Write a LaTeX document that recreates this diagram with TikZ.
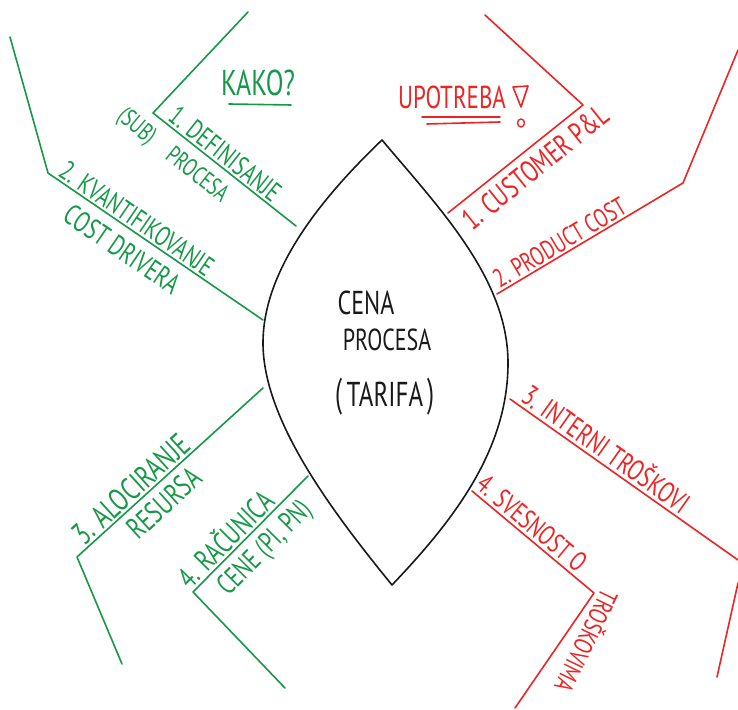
\documentclass[tikz,border=0pt]{standalone}
\usepackage{fontspec}
\usepackage{graphicx}
\setmainfont{PT Sans}
\definecolor{penGreen}{RGB}{22,152,72}
\definecolor{penRed}{RGB}{236,36,36}
\definecolor{penBlack}{RGB}{25,25,25}
\newcommand\pensize[1]{\fontsize{#1}{#1}\selectfont}
% hand lettering: tall and narrow capitals
\newcommand\tall[1]{\scalebox{1}[1.38]{#1}}
\begin{document}
\begin{tikzpicture}[x=1pt,y=1pt,
  pen/.style={line width=1.6pt, line cap=round, line join=round},
  gpen/.style={pen, draw=penGreen},
  rpen/.style={pen, draw=penRed},
  lbl/.style={inner sep=1.5pt, sloped},
  glbl/.style={lbl, text=penGreen},
  rlbl/.style={lbl, text=penRed}]
\useasboundingbox (0,0) rectangle (738,709);

% central lens
\draw[line width=1.6pt, draw=penBlack, line join=round]
  (382,569) .. controls (315,505) and (263,435) .. (263,366)
            .. controls (263,290) and (330,200) .. (392,124)
            .. controls (455,190) and (508,260) .. (508,346)
            .. controls (508,430) and (440,500) .. (382,569) -- cycle;
\node[text=penBlack, font=\pensize{24}] (cena) at (366,406) {\tall{CENA}};
\node[text=penBlack, font=\pensize{22}] (procesa) at (387,369) {\tall{PROCESA}};
\node[text=penBlack, font=\pensize{25}] (tarifa) at (385,312)
  {\scalebox{1}[1.6]{(}\,\tall{TARIFA}\,\scalebox{1}[1.6]{)}};

% left side: KAKO?
\node[text=penGreen, font=\pensize{26}] (kako) at (258,626) {\tall{KAKO?}};
\coordinate (ku1) at (229,605); \coordinate (ku2) at (291,604);
\draw[gpen] (ku1) -- (ku2);

\coordinate (g1a) at (248,697); \coordinate (g1b) at (153,596); \coordinate (g1c) at (296,483);
\draw[gpen] (g1a) -- (g1b) -- (g1c);
\path (g1b) -- (g1c)
  node[glbl, above=1pt, pos=0.45, font=\pensize{20}] (g1t) {\tall{1. DEFINISANJE}}
  node[glbl, below=9pt, pos=0.40, font=\pensize{18}] (g1s) {\tall{PROCESA}};
\node[text=penGreen, rotate=-40, font=\pensize{18}] (sub) at (136,582) {\tall{(SUB)}};

\coordinate (g2a) at (10,672); \coordinate (g2b) at (48,536); \coordinate (g2c) at (263,389);
\draw[gpen] (g2a) -- (g2b) -- (g2c);
\path (g2b) -- (g2c)
  node[glbl, above=1pt, pos=0.38, font=\pensize{20}] (g2t) {\tall{2. KVANTIFIKOVANJE}}
  node[glbl, below=9pt, pos=0.40, font=\pensize{21}] (g2s) {\tall{COST DRIVERA}};

\coordinate (g3c) at (263,321); \coordinate (g3b) at (77,152); \coordinate (g3a) at (122,45);
\draw[gpen] (g3c) -- (g3b) -- (g3a);
\path (g3b) -- (g3c)
  node[glbl, above=1pt, pos=0.34, font=\pensize{23}] (g3t) {\tall{3. ALOCIRANJE}}
  node[glbl, below=6pt, pos=0.40, font=\pensize{22}] (g3s) {\tall{RESURSA}};

\coordinate (g4c) at (308,233); \coordinate (g4b) at (193,117); \coordinate (g4a) at (285,21);
\draw[gpen] (g4c) -- (g4b) -- (g4a);
\path (g4b) -- (g4c)
  node[glbl, above=1pt, pos=0.37, font=\pensize{22}] (g4t) {\tall{4. RAČUNICA}}
  node[glbl, below=6pt, pos=0.50, font=\pensize{21}] (g4s) {\tall{CENE (PI, PN)}};

% right side: UPOTREBA
\node[text=penRed, font=\pensize{23}] (upotreba) at (452,612) {\tall{UPOTREBA}};
\coordinate (uu1) at (422,592); \coordinate (uu2) at (500,592);
\coordinate (uu3) at (427,585); \coordinate (uu4) at (500,587);
\draw[rpen] (uu1) -- (uu2);
\draw[rpen] (uu3) -- (uu4);
\coordinate (ex1) at (513,622); \coordinate (ex2) at (528,623); \coordinate (ex3) at (521,602);
\draw[rpen] (ex1) -- (ex2) -- (ex3) -- cycle;
\draw[rpen, line width=1.4pt] (521,586) circle[x radius=3.5, y radius=4];

\coordinate (r1a) at (485,694); \coordinate (r1b) at (583,604); \coordinate (r1c) at (448,496);
\draw[rpen] (r1a) -- (r1b) -- (r1c);
\path (r1c) -- (r1b)
  node[rlbl, below=6pt, pos=0.56, font=\pensize{22}] (r1t) {\tall{1. CUSTOMER P\&L}};

\coordinate (r2a) at (738,659); \coordinate (r2b) at (683,526); \coordinate (r2c) at (497,415);
\draw[rpen] (r2a) -- (r2b) -- (r2c);
\path (r2c) -- (r2b)
  node[rlbl, above=1pt, pos=0.37, font=\pensize{19}] (r2t) {\tall{2. PRODUCT COST}};

\coordinate (r3c) at (510,310); \coordinate (r3b) at (738,149);
\coordinate (r3d) at (738,126); \coordinate (r3e) at (717,32);
\draw[rpen] (r3c) -- (r3b);
\draw[rpen] (r3d) -- (r3e);
\path (r3c) -- (r3b)
  node[rlbl, above=2pt, pos=0.385, font=\pensize{21}] (r3t) {\tall{3. INTERNI TROŠKOVI}};

\coordinate (r4c) at (472,218); \coordinate (r4b) at (594,116); \coordinate (r4a) at (515,1);
\draw[rpen] (r4c) -- (r4b) -- (r4a);
\path (r4c) -- (r4b)
  node[rlbl, above=2pt, pos=0.42, font=\pensize{20}] (r4t) {\tall{4. SVESNOST O}};
\node[text=penRed, rotate=-116, font=\pensize{19}] (r4s) at (588,67) {\tall{TROŠKOVIMA}};
\end{tikzpicture}
\end{document}
